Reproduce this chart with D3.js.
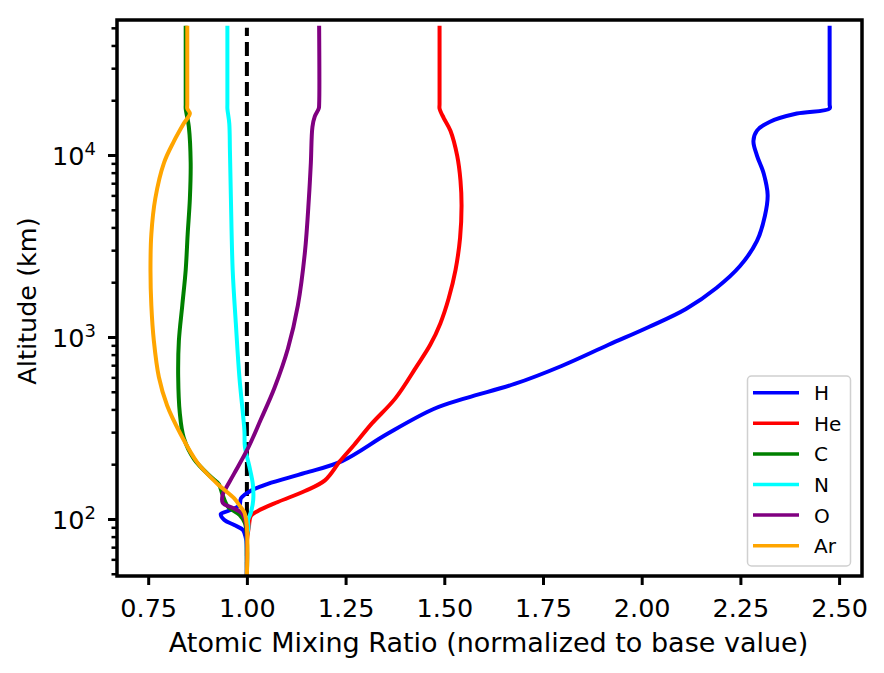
<!DOCTYPE html>
<html><head><meta charset="utf-8">
<script src="https://cdn.jsdelivr.net/npm/d3@7"></script>
<style>body{margin:0;background:#fff} text{font-family:"DejaVu Sans",sans-serif}</style>
</head><body><svg id="c" width="884" height="673"></svg>
<script>
const species = ["H", "He", "C", "N", "O", "Ar"];
const colors = ["#0000ff", "#ff0000", "#008000", "#00ffff", "#800080", "#ffa500"];

const altH = [48.6, 69, 79, 87, 92.7, 98.7, 106.5, 110.6, 119, 130, 143, 156, 179, 208, 293, 402, 463, 552, 693, 906, 1135, 1426, 1866, 2455, 3370, 4620, 6030, 7910, 9930, 11940, 13620, 15240, 16900, 18000, 19000, 50000];
const valH = [1.000, 1.000, 0.997, 0.990, 0.968, 0.943, 0.934, 0.952, 0.981, 0.985, 1.010, 1.053, 1.147, 1.241, 1.355, 1.473, 1.557, 1.678, 1.797, 1.916, 2.018, 2.112, 2.190, 2.249, 2.292, 2.312, 2.319, 2.309, 2.292, 2.283, 2.292, 2.325, 2.393, 2.476, 2.476, 2.476];

const altHe = [48.6, 75.7, 90.3, 103.9, 110.7, 124, 142.5, 163, 208, 256, 335, 460, 690, 906, 1188, 1627, 2340, 3513, 5270, 7230, 9910, 13590, 15960, 18000, 19000, 50000];
const valHe = [1.000, 1.000, 1.005, 1.010, 1.028, 1.0785, 1.147, 1.1976, 1.236, 1.272, 1.3167, 1.376, 1.430, 1.4644, 1.490, 1.511, 1.5285, 1.540, 1.5437, 1.541, 1.5326, 1.5156, 1.4986, 1.488, 1.488, 1.488];

const altC = [48.6, 76.7, 95, 105, 116.8, 135.8, 155.6, 170, 213.6, 280, 384, 603, 951, 1488, 2333, 3680, 5770, 9060, 14260, 18000, 19000, 50000];
const valC = [1.000, 1.000, 0.995, 0.982, 0.952, 0.9384, 0.929, 0.909, 0.866, 0.840, 0.830, 0.826, 0.8277, 0.8363, 0.845, 0.850, 0.8556, 0.8576, 0.853, 0.845, 0.845, 0.845];

const altN = [48.6, 80, 90.3, 98.7, 108.4, 127, 155.6, 195.5, 249.5, 306, 603, 1187, 2333, 5770, 10640, 14890, 18000, 19000, 50000];
const valN = [1.000, 1.000, 1.004, 1.003, 1.010, 1.016, 1.015, 1.006, 0.995, 0.9937, 0.981, 0.972, 0.964, 0.9595, 0.957, 0.9554, 0.9506, 0.9506, 0.9506];

const altO = [48.6, 79, 95, 107.9, 114.9, 122.4, 135.5, 142.5, 178, 244, 351, 526.5, 865, 1488, 2930, 5770, 9060, 14260, 16300, 18000, 19000, 50000];
const valO = [1.000, 1.000, 0.9975, 0.9866, 0.9645, 0.939, 0.9384, 0.943, 0.968, 1.0025, 1.035, 1.070, 1.104, 1.129, 1.147, 1.157, 1.162, 1.166, 1.172, 1.182, 1.183, 1.183];

const altAr = [48.6, 90.3, 108.4, 117.9, 129.8, 155.6, 204, 293, 420, 603, 951, 1488, 2333, 3680, 5770, 9060, 11880, 14890, 16900, 18000, 19000, 50000];
const valAr = [1.000, 1.000, 0.9937, 0.982, 0.968, 0.9258, 0.8746, 0.832, 0.798, 0.777, 0.7644, 0.758, 0.7558, 0.758, 0.768, 0.790, 0.815, 0.840, 0.8556, 0.849, 0.849, 0.849];

const refAlt = [48.6, 50000];
const refVal = [1.0, 1.0];

const xTicks = [0.75, 1.00, 1.25, 1.50, 1.75, 2.00, 2.25, 2.50];
const yMajorTicks = [100, 1000, 10000];
const yMajorExp = ["2", "3", "4"];
const xDomain = [0.671, 2.558];
const yDomain = [48.6, 55200];

const seriesAlt = [altH, altHe, altC, altN, altO, altAr];
const seriesVal = [valH, valHe, valC, valN, valO, valAr];

const L = 117, R = 862, T = 20, B = 576;
const svg = d3.select("#c");
const x = d3.scaleLinear().domain(xDomain).range([L, R]);
const y = d3.scaleLog().domain(yDomain).range([B, T]);

svg.append("clipPath").attr("id", "clip").append("rect")
  .attr("x", L).attr("y", T).attr("width", R - L).attr("height", B - T);

const line = d3.line().x(d => x(d[1])).y(d => y(d[0])).curve(d3.curveCatmullRom.alpha(0.5));
const pts = (a, v) => d3.zip(a, v);
const plot = svg.append("g").attr("clip-path", "url(#clip)");

plot.append("path").datum(pts(refAlt, refVal)).attr("d", line)
  .attr("fill", "none").attr("stroke", "#000").attr("stroke-width", 4)
  .attr("stroke-dasharray", "14 6");

species.forEach((s, i) => {
  plot.append("path").datum(pts(seriesAlt[i], seriesVal[i])).attr("d", line)
    .attr("fill", "none").attr("stroke", colors[i]).attr("stroke-width", 4)
    .attr("stroke-linejoin", "round").attr("stroke-linecap", "square");
});

// X axis
const gx = svg.append("g").attr("transform", `translate(0,${B})`)
  .call(d3.axisBottom(x).tickValues(xTicks).tickFormat(d3.format(".2f")).tickSize(9).tickSizeOuter(0));
gx.select(".domain").remove();
gx.selectAll(".tick line").attr("stroke", "#000").attr("stroke-width", 3);
gx.selectAll(".tick text").attr("dy", null).attr("y", 41)
  .attr("font-size", 25.5).attr("font-family", "DejaVu Sans").attr("fill", "#000");

// Y axis minor
const minor = y.ticks().filter(v => !yMajorTicks.includes(v));
const gym = svg.append("g").attr("transform", `translate(${L},0)`)
  .call(d3.axisLeft(y).tickValues(minor).tickFormat("").tickSize(5.5).tickSizeOuter(0));
gym.select(".domain").remove();
gym.selectAll(".tick line").attr("stroke", "#000").attr("stroke-width", 2.5);

// Y axis major
const gy = svg.append("g").attr("transform", `translate(${L},0)`)
  .call(d3.axisLeft(y).tickValues(yMajorTicks).tickFormat("").tickSize(9).tickSizeOuter(0));
gy.select(".domain").remove();
gy.selectAll(".tick line").attr("stroke", "#000").attr("stroke-width", 3);
gy.selectAll(".tick text").remove();
yMajorTicks.forEach((v, i) => {
  const t = svg.append("text").attr("x", 96).attr("y", y(v) + 10)
    .attr("text-anchor", "end").attr("font-size", 25.5).attr("fill", "#000");
  t.append("tspan").text("10");
  t.append("tspan").attr("font-size", 18).attr("dy", -10).text(yMajorExp[i]);
});

// frame
svg.append("rect").attr("x", L).attr("y", T).attr("width", R - L).attr("height", B - T)
  .attr("fill", "none").attr("stroke", "#000").attr("stroke-width", 3.5);

// labels
svg.append("text").attr("x", (L + R) / 2 - 1).attr("y", 652).attr("text-anchor", "middle")
  .attr("font-size", 27).attr("fill", "#000").text("Atomic Mixing Ratio (normalized to base value)");
svg.append("text").attr("transform", `translate(36,${(T + B) / 2 + 3}) rotate(-90)`)
  .attr("text-anchor", "middle").attr("font-size", 25.5).attr("fill", "#000").text("Altitude (km)");

// legend
const lg = svg.append("g");
lg.append("rect").attr("x", 747.5).attr("y", 376).attr("width", 103).attr("height", 190)
  .attr("rx", 4).attr("fill", "#fff").attr("fill-opacity", 0.8)
  .attr("stroke", "#d0d0d0").attr("stroke-width", 1.5);
species.forEach((s, i) => {
  const yy = 392.7 + i * 30.6;
  lg.append("line").attr("x1", 753).attr("x2", 799).attr("y1", yy).attr("y2", yy)
    .attr("stroke", colors[i]).attr("stroke-width", 3.5);
  lg.append("text").attr("x", 814).attr("y", yy + 7.5).attr("font-size", 20).attr("fill", "#000").text(s);
});
</script></body></html>
